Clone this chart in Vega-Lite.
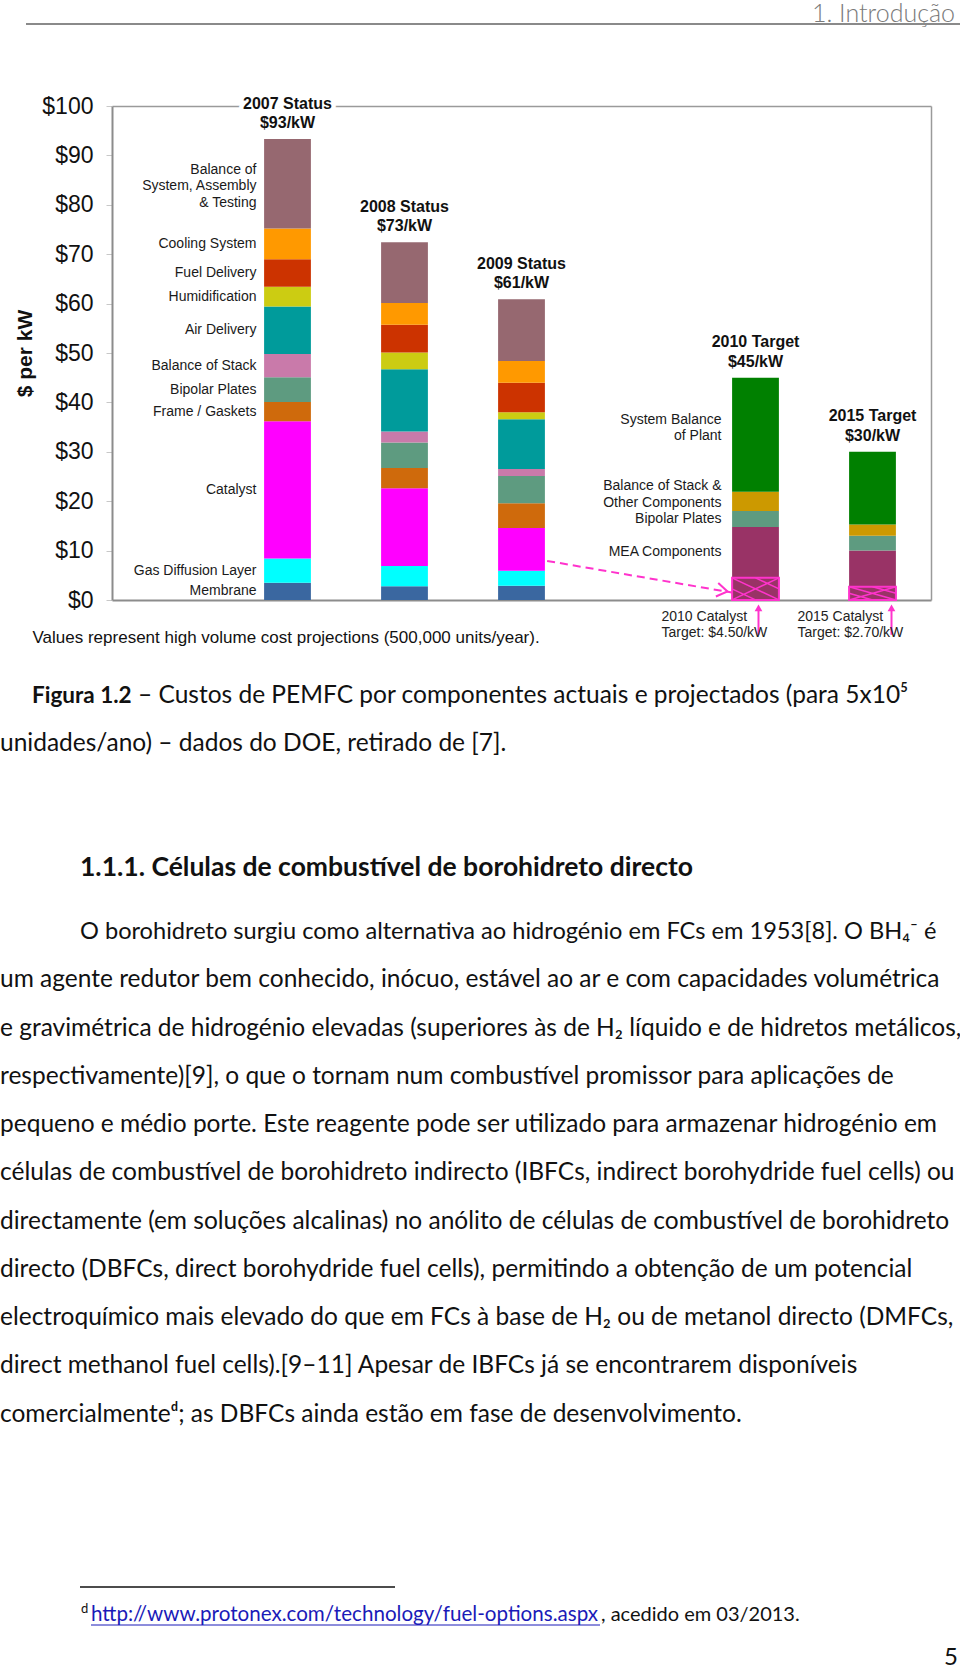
{
  "$schema": "https://vega.github.io/schema/vega-lite/v6.json",
  "padding": 0,
  "background": "white",
  "spacing": 0,
  "bounds": "flush",
  "config": {"view": {"stroke": null}, "font": "Liberation Sans"},
  "datasets": {
    "comps": [
      {"slot": "2007", "k": 1, "comp": "Membrane", "value": 3.5},
      {"slot": "2007", "k": 2, "comp": "Gas Diffusion Layer", "value": 4.9},
      {"slot": "2007", "k": 3, "comp": "Catalyst", "value": 27.8},
      {"slot": "2007", "k": 4, "comp": "Frame / Gaskets", "value": 3.9},
      {"slot": "2007", "k": 5, "comp": "Bipolar Plates", "value": 5.0},
      {"slot": "2007", "k": 6, "comp": "Balance of Stack", "value": 4.7},
      {"slot": "2007", "k": 7, "comp": "Air Delivery", "value": 9.6},
      {"slot": "2007", "k": 8, "comp": "Humidification", "value": 4.0},
      {"slot": "2007", "k": 9, "comp": "Fuel Delivery", "value": 5.6},
      {"slot": "2007", "k": 10, "comp": "Cooling System", "value": 6.2},
      {"slot": "2007", "k": 11, "comp": "Balance of\nSystem, Assembly\n& Testing", "value": 18.1},
      {"slot": "2008", "k": 1, "comp": "Membrane", "value": 2.8},
      {"slot": "2008", "k": 2, "comp": "Gas Diffusion Layer", "value": 4.1},
      {"slot": "2008", "k": 3, "comp": "Catalyst", "value": 15.7},
      {"slot": "2008", "k": 4, "comp": "Frame / Gaskets", "value": 4.1},
      {"slot": "2008", "k": 5, "comp": "Bipolar Plates", "value": 5.2},
      {"slot": "2008", "k": 6, "comp": "Balance of Stack", "value": 2.2},
      {"slot": "2008", "k": 7, "comp": "Air Delivery", "value": 12.6},
      {"slot": "2008", "k": 8, "comp": "Humidification", "value": 3.4},
      {"slot": "2008", "k": 9, "comp": "Fuel Delivery", "value": 5.6},
      {"slot": "2008", "k": 10, "comp": "Cooling System", "value": 4.4},
      {"slot": "2008", "k": 11, "comp": "Balance of\nSystem, Assembly\n& Testing", "value": 12.3},
      {"slot": "2009", "k": 1, "comp": "Membrane", "value": 2.9},
      {"slot": "2009", "k": 2, "comp": "Gas Diffusion Layer", "value": 3.0},
      {"slot": "2009", "k": 3, "comp": "Catalyst", "value": 8.7},
      {"slot": "2009", "k": 4, "comp": "Frame / Gaskets", "value": 5.0},
      {"slot": "2009", "k": 5, "comp": "Bipolar Plates", "value": 5.5},
      {"slot": "2009", "k": 6, "comp": "Balance of Stack", "value": 1.4},
      {"slot": "2009", "k": 7, "comp": "Air Delivery", "value": 10.1},
      {"slot": "2009", "k": 8, "comp": "Humidification", "value": 1.4},
      {"slot": "2009", "k": 9, "comp": "Fuel Delivery", "value": 6.0},
      {"slot": "2009", "k": 10, "comp": "Cooling System", "value": 4.4},
      {"slot": "2009", "k": 11, "comp": "Balance of\nSystem, Assembly\n& Testing", "value": 12.5},
      {"slot": "2010", "k": 1, "comp": "Catalyst Target", "value": 4.5},
      {"slot": "2010", "k": 2, "comp": "MEA Components", "value": 10.3},
      {"slot": "2010", "k": 3, "comp": "Bipolar Plates", "value": 3.2},
      {"slot": "2010", "k": 4, "comp": "Balance of Stack &\nOther Components", "value": 3.9},
      {"slot": "2010", "k": 5, "comp": "System Balance\nof Plant", "value": 23.1},
      {"slot": "2015", "k": 1, "comp": "Catalyst Target", "value": 2.7},
      {"slot": "2015", "k": 2, "comp": "MEA Components", "value": 7.3},
      {"slot": "2015", "k": 3, "comp": "Bipolar Plates", "value": 3.0},
      {"slot": "2015", "k": 4, "comp": "Balance of Stack &\nOther Components", "value": 2.3},
      {"slot": "2015", "k": 5, "comp": "System Balance\nof Plant", "value": 14.7}
    ],
    "titles": [
      {"slot": "2007", "title": "2007 Status\n$93/kW"},
      {"slot": "2008", "title": "2008 Status\n$73/kW"},
      {"slot": "2009", "title": "2009 Status\n$61/kW"},
      {"slot": "2010", "title": "2010 Target\n$45/kW"},
      {"slot": "2015", "title": "2015 Target\n$30/kW"}
    ],
    "notes": [
      {"slot": "2010", "t": "2010 Catalyst\nTarget: $4.50/kW"},
      {"slot": "2015", "t": "2015 Catalyst\nTarget: $2.70/kW"}
    ],
    "pointer": [
      {"slot": "2009", "y": 8.8},
      {"slot": "2010", "y": 0.7}
    ],
    "para": [
      {"row": 1, "t": "O borohidreto surgiu como alternativa ao hidrogénio em FCs em 1953[8]. O BH₄⁻ é"},
      {"row": 2, "t": "um agente redutor bem conhecido, inócuo, estável ao ar e com capacidades volumétrica"},
      {"row": 3, "t": "e gravimétrica de hidrogénio elevadas (superiores às de H₂ líquido e de hidretos metálicos,"},
      {"row": 4, "t": "respectivamente)[9], o que o tornam num combustível promissor para aplicações de"},
      {"row": 5, "t": "pequeno e médio porte. Este reagente pode ser utilizado para armazenar hidrogénio em"},
      {"row": 6, "t": "células de combustível de borohidreto indirecto (IBFCs, indirect borohydride fuel cells) ou"},
      {"row": 7, "t": "directamente (em soluções alcalinas) no anólito de células de combustível de borohidreto"},
      {"row": 8, "t": "directo (DBFCs, direct borohydride fuel cells), permitindo a obtenção de um potencial"},
      {"row": 9, "t": "electroquímico mais elevado do que em FCs à base de H₂ ou de metanol directo (DMFCs,"},
      {"row": 10, "t": "direct methanol fuel cells).[9–11] Apesar de IBFCs já se encontrarem disponíveis"},
      {"row": 11, "t": "comercialmenteᵈ; as DBFCs ainda estão em fase de desenvolvimento."}
    ]
  },
  "vconcat": [
    {
      "width": 960,
      "height": 106,
      "data": {"values": [{"t": "1. Introdução"}]},
      "layer": [
        {"mark": {"type": "text", "align": "right", "baseline": "alphabetic", "font": "Lato", "fontWeight": 300, "fontSize": 25, "color": "#7a7a7a"},
         "encoding": {"x": {"value": 955}, "y": {"value": 22}, "text": {"field": "t"}}},
        {"mark": {"type": "rule", "color": "#8a8a8a", "strokeWidth": 2},
         "encoding": {"x": {"value": 26}, "x2": {"value": 960}, "y": {"value": 24}}}
      ]
    },
    {
      "width": 931,
      "height": 494,
      "resolve": {"axis": {"x": "independent", "y": "independent"}},
      "layer": [
        {
          "data": {"name": "pointer"},
          "mark": {"type": "line", "stroke": "#ff33cc", "strokeWidth": 2, "strokeDash": [8, 5]},
          "encoding": {
            "x": {"field": "slot", "type": "nominal",
              "scale": {"domain": ["lab", "2007", "2008", "2009", "gap", "2010", "2015"], "range": [112, 931], "paddingInner": 0.6, "paddingOuter": 0.3},
              "axis": {"orient": "bottom", "labels": false, "ticks": false, "domainColor": "#8c8c8c", "domainWidth": 2,
                "title": "Values represent high volume cost projections (500,000 units/year).",
                "titleX": 32, "titleY": 37, "titleAlign": "left", "titleBaseline": "middle", "titleFontSize": 17, "titleFontWeight": "normal", "titleColor": "#111"}},
            "y": {"field": "y", "type": "quantitative",
              "scale": {"domain": [0, 100], "nice": false},
              "axis": {"orient": "left", "offset": -112, "values": [0, 10, 20, 30, 40, 50, 60, 70, 80, 90, 100],
                "labelExpr": "'$' + datum.value", "labelFontSize": 23, "labelColor": "#111", "labelPadding": 13,
                "tickSize": 6, "tickColor": "#c8c8c8", "domainColor": "#8c8c8c", "domainWidth": 2, "grid": false,
                "title": "$ per kW", "titleFontSize": 21, "titleFontWeight": "bold", "titlePadding": 6, "titleColor": "#111"}}
          }
        },
        {
          "data": {"name": "comps"},
          "mark": {"type": "bar"},
          "encoding": {
            "x": {"field": "slot", "type": "nominal", "axis": null},
            "y": {"field": "value", "type": "quantitative", "stack": "zero", "axis": null},
            "color": {"field": "comp", "type": "nominal", "legend": null,
              "scale": {
                "domain": ["Membrane", "Gas Diffusion Layer", "Catalyst", "Frame / Gaskets", "Bipolar Plates", "Balance of Stack", "Air Delivery", "Humidification", "Fuel Delivery", "Cooling System", "Balance of\nSystem, Assembly\n& Testing", "Catalyst Target", "MEA Components", "Balance of Stack &\nOther Components", "System Balance\nof Plant"],
                "range": ["#3a67a0", "#00ffff", "#ff00ff", "#cf6a0c", "#5e9b80", "#c97aaa", "#009b9b", "#cccc12", "#cc3300", "#ff9900", "#966870", "#993366", "#993366", "#cc9900", "#008000"]}},
            "order": {"field": "k", "type": "quantitative"}
          }
        },
        {
          "data": {"name": "comps"},
          "transform": [{"filter": "datum.comp === 'Catalyst Target'"}],
          "mark": {"type": "bar", "filled": false, "stroke": "#ff33cc", "strokeWidth": 2},
          "encoding": {
            "x": {"field": "slot", "type": "nominal", "axis": null},
            "y": {"field": "value", "type": "quantitative", "axis": null}
          }
        },
        {
          "data": {"name": "comps"},
          "transform": [{"filter": "datum.comp === 'Catalyst Target' && datum.slot === '2010'"}, {"calculate": "datum.value / 2", "as": "half"}],
          "mark": {"type": "point", "shape": "M-1,-0.47L1,0.47M-1,0.47L1,-0.47M-1,0L0,0.47M0,-0.47L1,0", "filled": false, "stroke": "#ff33cc", "strokeWidth": 1.5, "size": 2209, "opacity": 1},
          "encoding": {
            "x": {"field": "slot", "type": "nominal", "axis": null},
            "y": {"field": "half", "type": "quantitative", "axis": null}
          }
        },
        {
          "data": {"name": "comps"},
          "transform": [{"filter": "datum.comp === 'Catalyst Target' && datum.slot === '2015'"}, {"calculate": "datum.value / 2", "as": "half"}],
          "mark": {"type": "point", "shape": "M-1,-0.28L1,0.28M-1,0.28L1,-0.28M-1,0L0,0.28M0,-0.28L1,0", "filled": false, "stroke": "#ff33cc", "strokeWidth": 1.5, "size": 2209, "opacity": 1},
          "encoding": {
            "x": {"field": "slot", "type": "nominal", "axis": null},
            "y": {"field": "half", "type": "quantitative", "axis": null}
          }
        },
        {
          "data": {"name": "pointer"},
          "transform": [{"filter": "datum.slot === '2010'"}],
          "mark": {"type": "point", "shape": "M-1,-0.65L0,0L-1,0.65", "filled": false, "stroke": "#ff33cc", "strokeWidth": 2, "size": 450, "angle": 10, "xOffset": -28, "yOffset": -5, "opacity": 1},
          "encoding": {
            "x": {"field": "slot", "type": "nominal", "axis": null},
            "y": {"field": "y", "type": "quantitative", "axis": null}
          }
        },
        {
          "data": {"name": "notes"},
          "transform": [{"filter": "datum.slot === '2010'"}],
          "mark": {"type": "point", "shape": "M0,-0.8L0,1", "filled": false, "stroke": "#ff33cc", "strokeWidth": 2, "size": 900, "xOffset": 3, "opacity": 1},
          "encoding": {"x": {"field": "slot", "type": "nominal", "axis": null}, "y": {"datum": -4, "type": "quantitative", "axis": null}}
        },
        {
          "data": {"name": "notes"},
          "transform": [{"filter": "datum.slot === '2015'"}],
          "mark": {"type": "point", "shape": "M0,-0.8L0,1", "filled": false, "stroke": "#ff33cc", "strokeWidth": 2, "size": 900, "xOffset": 19, "opacity": 1},
          "encoding": {"x": {"field": "slot", "type": "nominal", "axis": null}, "y": {"datum": -4, "type": "quantitative", "axis": null}}
        },
        {
          "data": {"name": "notes"},
          "transform": [{"filter": "datum.slot === '2010'"}],
          "mark": {"type": "point", "shape": "triangle-up", "filled": true, "color": "#ff33cc", "size": 60, "xOffset": 3, "opacity": 1},
          "encoding": {"x": {"field": "slot", "type": "nominal", "axis": null}, "y": {"datum": -1.6, "type": "quantitative", "axis": null}}
        },
        {
          "data": {"name": "notes"},
          "transform": [{"filter": "datum.slot === '2015'"}],
          "mark": {"type": "point", "shape": "triangle-up", "filled": true, "color": "#ff33cc", "size": 60, "xOffset": 19, "opacity": 1},
          "encoding": {"x": {"field": "slot", "type": "nominal", "axis": null}, "y": {"datum": -1.6, "type": "quantitative", "axis": null}}
        },
        {
          "data": {"name": "notes"},
          "transform": [{"filter": "datum.slot === '2010'"}],
          "mark": {"type": "text", "align": "left", "baseline": "middle", "lineBreak": "\n", "lineHeight": 16, "fontSize": 14, "color": "#222", "dx": -94, "dy": 17},
          "encoding": {"x": {"field": "slot", "type": "nominal", "axis": null}, "y": {"datum": 0, "type": "quantitative", "axis": null}, "text": {"field": "t"}}
        },
        {
          "data": {"name": "notes"},
          "transform": [{"filter": "datum.slot === '2015'"}],
          "mark": {"type": "text", "align": "left", "baseline": "middle", "lineBreak": "\n", "lineHeight": 16, "fontSize": 14, "color": "#222", "dx": -75, "dy": 17},
          "encoding": {"x": {"field": "slot", "type": "nominal", "axis": null}, "y": {"datum": 0, "type": "quantitative", "axis": null}, "text": {"field": "t"}}
        },
        {
          "data": {"name": "comps"},
          "transform": [
            {"stack": "value", "groupby": ["slot"], "sort": [{"field": "k", "order": "ascending"}], "as": ["v0", "v1"]},
            {"filter": "datum.slot === '2007' && indexof(datum.comp, '\\n') < 0"},
            {"calculate": "(datum.v0 + datum.v1) / 2", "as": "mid"}
          ],
          "mark": {"type": "text", "align": "right", "baseline": "middle", "fontSize": 14, "color": "#1a1a1a", "dx": -31},
          "encoding": {
            "x": {"field": "slot", "type": "nominal", "axis": null},
            "y": {"field": "mid", "type": "quantitative", "axis": null},
            "text": {"field": "comp", "type": "nominal"}
          }
        },
        {
          "data": {"name": "comps"},
          "transform": [
            {"stack": "value", "groupby": ["slot"], "sort": [{"field": "k", "order": "ascending"}], "as": ["v0", "v1"]},
            {"filter": "datum.slot === '2007' && indexof(datum.comp, '\\n') >= 0"},
            {"calculate": "(datum.v0 + datum.v1) / 2", "as": "mid"}
          ],
          "mark": {"type": "text", "align": "right", "baseline": "middle", "lineBreak": "\n", "lineHeight": 16.5, "fontSize": 14, "color": "#1a1a1a", "dx": -31, "dy": -14},
          "encoding": {
            "x": {"field": "slot", "type": "nominal", "axis": null},
            "y": {"field": "mid", "type": "quantitative", "axis": null},
            "text": {"field": "comp", "type": "nominal"}
          }
        },
        {
          "data": {"name": "comps"},
          "transform": [
            {"stack": "value", "groupby": ["slot"], "sort": [{"field": "k", "order": "ascending"}], "as": ["v0", "v1"]},
            {"filter": "datum.slot === '2010' && datum.comp !== 'Catalyst Target' && indexof(datum.comp, '\\n') < 0"},
            {"calculate": "(datum.v0 + datum.v1) / 2", "as": "mid"}
          ],
          "mark": {"type": "text", "align": "right", "baseline": "middle", "fontSize": 14, "color": "#1a1a1a", "dx": -34},
          "encoding": {
            "x": {"field": "slot", "type": "nominal", "axis": null},
            "y": {"field": "mid", "type": "quantitative", "axis": null},
            "text": {"field": "comp", "type": "nominal"}
          }
        },
        {
          "data": {"name": "comps"},
          "transform": [
            {"stack": "value", "groupby": ["slot"], "sort": [{"field": "k", "order": "ascending"}], "as": ["v0", "v1"]},
            {"filter": "datum.slot === '2010' && indexof(datum.comp, '\\n') >= 0"},
            {"calculate": "(datum.v0 + datum.v1) / 2", "as": "mid"}
          ],
          "mark": {"type": "text", "align": "right", "baseline": "middle", "lineBreak": "\n", "lineHeight": 16.5, "fontSize": 14, "color": "#1a1a1a", "dx": -34, "dy": -15},
          "encoding": {
            "x": {"field": "slot", "type": "nominal", "axis": null},
            "y": {"field": "mid", "type": "quantitative", "axis": null},
            "text": {"field": "comp", "type": "nominal"}
          }
        },
        {
          "data": {"name": "comps"},
          "transform": [
            {"aggregate": [{"op": "sum", "field": "value", "as": "total"}], "groupby": ["slot"]},
            {"lookup": "slot", "from": {"data": {"name": "titles"}, "key": "slot", "fields": ["title"]}}
          ],
          "mark": {"type": "text", "align": "center", "baseline": "bottom", "lineBreak": "\n", "lineHeight": 19.5, "fontSize": 16, "fontWeight": "bold", "color": "white", "stroke": "white", "strokeWidth": 9, "strokeJoin": "round", "dy": -27.5},
          "encoding": {
            "x": {"field": "slot", "type": "nominal", "axis": null},
            "y": {"field": "total", "type": "quantitative", "axis": null},
            "text": {"field": "title", "type": "nominal"}
          }
        },
        {
          "data": {"name": "comps"},
          "transform": [
            {"aggregate": [{"op": "sum", "field": "value", "as": "total"}], "groupby": ["slot"]},
            {"lookup": "slot", "from": {"data": {"name": "titles"}, "key": "slot", "fields": ["title"]}}
          ],
          "mark": {"type": "text", "align": "center", "baseline": "bottom", "lineBreak": "\n", "lineHeight": 19.5, "fontSize": 16, "fontWeight": "bold", "color": "#111", "dy": -27.5},
          "encoding": {
            "x": {"field": "slot", "type": "nominal",
              "axis": {"orient": "top", "labels": false, "ticks": false, "domainColor": "#9a9a9a", "domainWidth": 1.5, "title": null}},
            "y": {"field": "total", "type": "quantitative",
              "axis": {"orient": "right", "labels": false, "ticks": false, "domainColor": "#9a9a9a", "domainWidth": 1.5, "title": null, "grid": false}},
            "text": {"field": "title", "type": "nominal"}
          }
        }
      ]
    },
    {"width": 960, "height": 72, "data": {"values": [{"t": ""}]}, "mark": {"type": "text"}, "encoding": {"text": {"field": "t", "type": "nominal"}}},
    {
      "width": 960,
      "height": {"step": 48.26},
      "layer": [
        {"data": {"values": [{"row": 1, "t": "Figura 1.2"}]},
         "mark": {"type": "text", "align": "left", "baseline": "middle", "font": "Lato", "fontSize": 22.5, "fontWeight": "bold", "color": "#111"},
         "encoding": {"y": {"field": "row", "type": "ordinal", "axis": null, "scale": {"domain": [1, 2]}}, "x": {"value": 32}, "text": {"field": "t", "type": "nominal"}}},
        {"data": {"values": [{"row": 1, "t": "– Custos de PEMFC por componentes actuais e projectados (para 5x10⁵"}]},
         "mark": {"type": "text", "align": "left", "baseline": "middle", "font": "Lato", "fontSize": 24.5, "color": "#111"},
         "encoding": {"y": {"field": "row", "type": "ordinal", "axis": null, "scale": {"domain": [1, 2]}}, "x": {"value": 138}, "text": {"field": "t", "type": "nominal"}}},
        {"data": {"values": [{"row": 2, "t": "unidades/ano) – dados do DOE, retirado de [7]."}]},
         "mark": {"type": "text", "align": "left", "baseline": "middle", "font": "Lato", "fontSize": 24.5, "color": "#111"},
         "encoding": {"y": {"field": "row", "type": "ordinal", "axis": null, "scale": {"domain": [1, 2]}}, "x": {"value": 0}, "text": {"field": "t", "type": "nominal"}}}
      ]
    },
    {"width": 960, "height": 74.88, "data": {"values": [{"t": ""}]}, "mark": {"type": "text"}, "encoding": {"text": {"field": "t", "type": "nominal"}}},
    {
      "width": 960,
      "height": {"step": 48.26},
      "data": {"values": [{"row": 1, "t": "1.1.1. Células de combustível de borohidreto directo"}]},
      "mark": {"type": "text", "align": "left", "baseline": "middle", "font": "Lato", "fontSize": 26.5, "fontWeight": "bold", "color": "#111"},
      "encoding": {"y": {"field": "row", "type": "ordinal", "axis": null}, "x": {"value": 80}, "text": {"field": "t", "type": "nominal"}}
    },
    {"width": 960, "height": 14.34, "data": {"values": [{"t": ""}]}, "mark": {"type": "text"}, "encoding": {"text": {"field": "t", "type": "nominal"}}},
    {
      "width": 960,
      "height": {"step": 48.26},
      "data": {"name": "para"},
      "layer": [
        {"transform": [{"filter": "datum.row === 1"}],
         "mark": {"type": "text", "align": "left", "baseline": "middle", "font": "Lato", "fontSize": 23.6, "color": "#111"},
         "encoding": {"y": {"field": "row", "type": "ordinal", "axis": null, "scale": {"domain": [1, 2, 3, 4, 5, 6, 7, 8, 9, 10, 11]}}, "x": {"value": 80}, "text": {"field": "t", "type": "nominal"}}},
        {"transform": [{"filter": "datum.row > 1"}],
         "mark": {"type": "text", "align": "left", "baseline": "middle", "font": "Lato", "fontSize": 24.5, "color": "#111"},
         "encoding": {"y": {"field": "row", "type": "ordinal", "axis": null, "scale": {"domain": [1, 2, 3, 4, 5, 6, 7, 8, 9, 10, 11]}}, "x": {"value": 0}, "text": {"field": "t", "type": "nominal"}}}
      ]
    },
    {"width": 960, "height": 133.14, "data": {"values": [{"t": ""}]}, "mark": {"type": "text"}, "encoding": {"text": {"field": "t", "type": "nominal"}}},
    {
      "width": 960,
      "height": {"step": 28},
      "layer": [
        {"data": {"values": [{"row": "rule"}]},
         "mark": {"type": "rule", "color": "#111", "strokeWidth": 1.5},
         "encoding": {"y": {"field": "row", "type": "ordinal", "axis": null, "scale": {"domain": ["rule", "note"]}}, "x": {"value": 80}, "x2": {"value": 395}}},
        {"data": {"values": [{"row": "note", "t": "d"}]},
         "mark": {"type": "text", "align": "left", "baseline": "middle", "font": "Lato", "fontSize": 13, "color": "#111", "dy": -6},
         "encoding": {"y": {"field": "row", "type": "ordinal", "axis": null, "scale": {"domain": ["rule", "note"]}}, "x": {"value": 81}, "text": {"field": "t", "type": "nominal"}}},
        {"data": {"values": [{"row": "note", "t": "http://www.protonex.com/technology/fuel-options.aspx"}]},
         "mark": {"type": "text", "align": "left", "baseline": "middle", "font": "Lato", "fontSize": 20.6, "color": "#1a1ab8"},
         "encoding": {"y": {"field": "row", "type": "ordinal", "axis": null, "scale": {"domain": ["rule", "note"]}}, "x": {"value": 91}, "text": {"field": "t", "type": "nominal"}}},
        {"data": {"values": [{"row": "note"}]},
         "mark": {"type": "rule", "color": "#1a1ab8", "strokeWidth": 1, "yOffset": 10},
         "encoding": {"y": {"field": "row", "type": "ordinal", "axis": null, "scale": {"domain": ["rule", "note"]}}, "x": {"value": 91}, "x2": {"value": 600}}},
        {"data": {"values": [{"row": "note", "t": ", acedido em 03/2013."}]},
         "mark": {"type": "text", "align": "left", "baseline": "middle", "font": "Lato", "fontSize": 20, "color": "#111"},
         "encoding": {"y": {"field": "row", "type": "ordinal", "axis": null, "scale": {"domain": ["rule", "note"]}}, "x": {"value": 601}, "text": {"field": "t", "type": "nominal"}}}
      ]
    },
    {"width": 960, "height": 17, "data": {"values": [{"t": ""}]}, "mark": {"type": "text"}, "encoding": {"text": {"field": "t", "type": "nominal"}}},
    {
      "width": 960,
      "height": {"step": 24},
      "data": {"values": [{"row": 1, "t": "5"}]},
      "mark": {"type": "text", "align": "right", "baseline": "middle", "font": "Lato", "fontSize": 24, "color": "#111"},
      "encoding": {"y": {"field": "row", "type": "ordinal", "axis": null}, "x": {"value": 958}, "text": {"field": "t", "type": "nominal"}}
    }
  ]
}
